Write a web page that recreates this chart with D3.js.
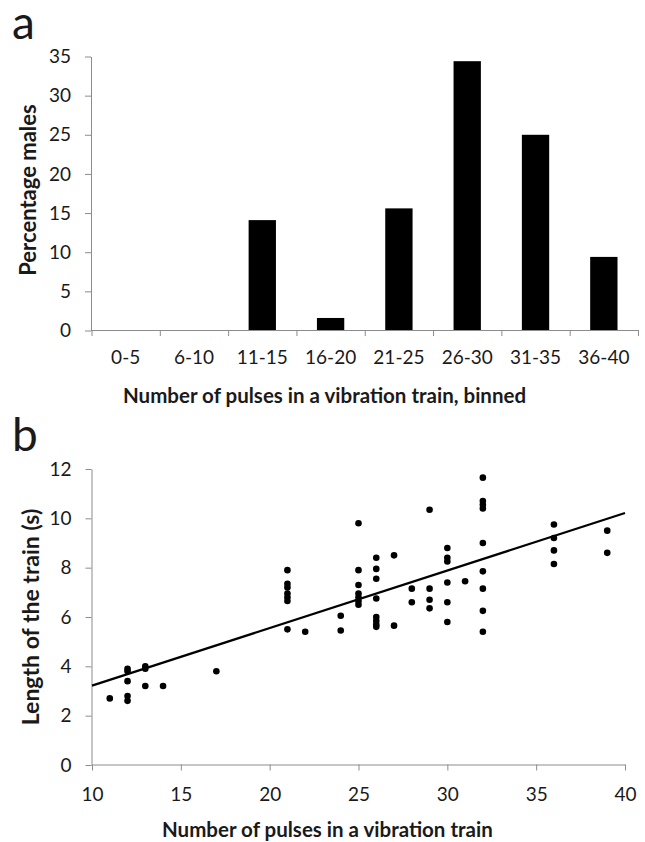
<!DOCTYPE html>
<html>
<head>
<meta charset="utf-8">
<script src="https://cdn.jsdelivr.net/npm/d3@7"></script>
<style>
  body { margin: 0; background: #fff; }
  text { font-family: Lato, "Open Sans", sans-serif; fill: #1a1a1a; }
</style>
</head>
<body>
<div id="chart"></div>
<script>
// panel a - histogram
var binLabels = ["0-5", "6-10", "11-15", "16-20", "21-25", "26-30", "31-35", "36-40"];
var percentMales = [0, 0, 14.1, 1.6, 15.6, 34.4, 25.0, 9.4];
var percentTicks = [0, 5, 10, 15, 20, 25, 30, 35];

// panel b - scatter, one entry per male
var pulses = [11,
  12, 12, 12, 12, 12,
  13, 13, 13,
  14, 17,
  21, 21, 21, 21, 21, 21, 21,
  22,
  24, 24,
  25, 25, 25, 25, 25, 25, 25,
  26, 26, 26, 26, 26, 26, 26, 26,
  27, 27,
  28, 28,
  29, 29, 29, 29,
  30, 30, 30, 30, 30, 30,
  31,
  32, 32, 32, 32, 32, 32, 32, 32, 32,
  36, 36, 36, 36,
  39, 39];
var trainLength = [2.7,
  3.9, 3.8, 3.4, 2.8, 2.6,
  4.0, 3.9, 3.2,
  3.2, 3.8,
  7.9, 7.35, 7.2, 6.95, 6.8, 6.65, 5.5,
  5.4,
  6.05, 5.45,
  9.8, 7.9, 7.3, 6.95, 6.8, 6.65, 6.5,
  8.4, 7.95, 7.55, 6.75, 6.0, 5.85, 5.7, 5.6,
  8.5, 5.65,
  7.15, 6.6,
  10.35, 7.15, 6.7, 6.35,
  8.8, 8.4, 8.25, 7.4, 6.6, 5.8,
  7.45,
  11.65, 10.7, 10.55, 10.4, 9.0, 7.85, 7.15, 6.25, 5.4,
  9.75, 9.2, 8.7, 8.15,
  9.5, 8.6];
var pulseTicks = [10, 15, 20, 25, 30, 35, 40];
var lengthTicks = [0, 2, 4, 6, 8, 10, 12];

var axisGrey = "#8c8c8c";

var svg = d3.select("#chart")
  .append("svg")
  .attr("width", 645)
  .attr("height", 842);

// panel letters
svg.append("text").text("a")
  .attr("x", 12).attr("y", 39)
  .style("font-size", "46px");
svg.append("text").text("b")
  .attr("x", 12).attr("y", 451)
  .style("font-size", "46px");

/////////////// panel a ///////////////
var xBand = d3.scaleBand()
  .domain(binLabels)
  .range([91.5, 638])
  .paddingInner(0.6)
  .paddingOuter(0.3);

var xEdges = d3.scaleLinear()
  .domain([0, binLabels.length])
  .range([91.5, 638]);

var yPct = d3.scaleLinear()
  .domain([0, 35])
  .range([330.5, 56.5]);

// bars
svg.append("g")
  .selectAll("rect")
  .data(binLabels)
  .enter()
  .append("rect")
    .attr("x", function(d) { return xBand(d); })
    .attr("width", xBand.bandwidth())
    .attr("y", function(d, i) { return yPct(percentMales[i]); })
    .attr("height", function(d, i) { return yPct(0) - yPct(percentMales[i]); })
    .attr("fill", "#000");

// y axis
svg.append("g")
  .attr("transform", "translate(91,0)")
  .call(d3.axisLeft(yPct).tickValues(percentTicks).tickSize(6).tickSizeOuter(0).tickPadding(14));

// x axis: ticks at bin edges, labels under the bars
svg.append("g")
  .attr("transform", "translate(0,330)")
  .call(d3.axisBottom(xEdges).tickValues(d3.range(binLabels.length + 1)).tickSize(6).tickSizeOuter(0).tickFormat(""));

var xLabelsA = svg.append("g")
  .attr("transform", "translate(0,330)")
  .call(d3.axisBottom(xBand).tickSize(0).tickPadding(21));
xLabelsA.select(".domain").remove();

// titles
svg.append("text")
  .text("Number of pulses in a vibration train, binned")
  .attr("x", 123).attr("y", 403)
  .style("font-size", "20.5px").style("font-weight", "bold");

svg.append("text")
  .text("Percentage males")
  .attr("transform", "translate(36,190) rotate(-90)")
  .attr("text-anchor", "middle")
  .style("font-size", "22px").style("font-weight", "bold");

/////////////// panel b ///////////////
var xPul = d3.scaleLinear()
  .domain([10, 40])
  .range([92, 625]);

var yLen = d3.scaleLinear()
  .domain([0, 12])
  .range([765, 469]);

svg.append("g")
  .attr("transform", "translate(91.5,0)")
  .call(d3.axisLeft(yLen).tickValues(lengthTicks).tickSize(6).tickSizeOuter(0).tickPadding(14));

svg.append("g")
  .attr("transform", "translate(0,764.5)")
  .call(d3.axisBottom(xPul).tickValues(pulseTicks).tickSize(6).tickSizeOuter(0).tickPadding(17));

// dots
svg.append("g")
  .selectAll("circle")
  .data(pulses)
  .enter()
  .append("circle")
    .attr("cx", function(d) { return xPul(d); })
    .attr("cy", function(d, i) { return yLen(trainLength[i]); })
    .attr("r", 3.3)
    .attr("fill", "#000");

// least squares trend line
var mx = d3.mean(pulses), my = d3.mean(trainLength);
var sxy = d3.sum(pulses, function(d, i) { return (d - mx) * (trainLength[i] - my); });
var sxx = d3.sum(pulses, function(d) { return (d - mx) * (d - mx); });
var slope = sxy / sxx, intercept = my - slope * mx;

svg.append("line")
  .attr("x1", xPul(10))
  .attr("y1", yLen(intercept + slope * 10))
  .attr("x2", xPul(40))
  .attr("y2", yLen(intercept + slope * 40))
  .attr("stroke", "#000")
  .attr("stroke-width", 2.2);

svg.append("text")
  .text("Number of pulses in a vibration train")
  .attr("x", 162).attr("y", 837)
  .style("font-size", "20.5px").style("font-weight", "bold");

svg.append("text")
  .text("Length of the train (s)")
  .attr("transform", "translate(39,617) rotate(-90)")
  .attr("text-anchor", "middle")
  .style("font-size", "23px").style("font-weight", "bold");

// shared axis styling
svg.selectAll(".domain").attr("stroke", axisGrey);
svg.selectAll(".tick line").attr("stroke", axisGrey);
svg.selectAll(".tick text")
  .style("font-family", "Lato, 'Open Sans', sans-serif")
  .style("font-size", "19px")
  .attr("fill", "#1a1a1a");
</script>
</body>
</html>
